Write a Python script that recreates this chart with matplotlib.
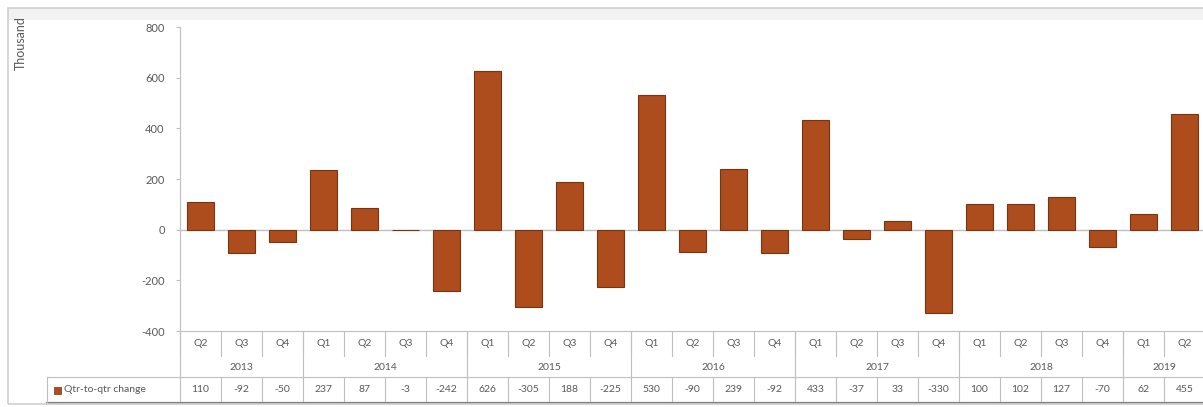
import matplotlib.pyplot as plt
from matplotlib.patches import Rectangle
from matplotlib.transforms import blended_transform_factory

# Quarter-to-quarter change, thousands
quarters = ['Q2', 'Q3', 'Q4',
            'Q1', 'Q2', 'Q3', 'Q4',
            'Q1', 'Q2', 'Q3', 'Q4',
            'Q1', 'Q2', 'Q3', 'Q4',
            'Q1', 'Q2', 'Q3', 'Q4',
            'Q1', 'Q2', 'Q3', 'Q4',
            'Q1', 'Q2']
years = ['2013', '2014', '2015', '2016', '2017', '2018', '2019']
quarters_per_year = [3, 4, 4, 4, 4, 4, 2]
changes = [110, -92, -50, 237, 87, -3, -242, 626, -305, 188, -225,
           530, -90, 239, -92, 433, -37, 33, -330, 100, 102, 127, -70, 62, 455]
series_name = 'Qtr-to-qtr change'

W, H = 1203, 407
bar_color = '#AD4C1C'
edge_color = '#7C3410'
text_color = '#595959'
grid_color = '#BFBFBF'
plt.rcParams['font.family'] = ['Lato', 'DejaVu Sans']
plt.rcParams['axes.unicode_minus'] = False

fig = plt.figure(figsize=(W / 100, H / 100), dpi=100)

# axes in pixel terms: left 180, right 1205, top 27, bottom 331
ax_left, ax_right, ax_top, ax_bot = 180, 1205, 27, 331
ax = fig.add_axes([ax_left / W, 1 - ax_bot / H,
                   (ax_right - ax_left) / W, (ax_bot - ax_top) / H])

x = list(range(len(changes)))
ax.bar(x, changes, width=0.68, color=bar_color, edgecolor=edge_color,
       linewidth=0.8, zorder=3)
ax.axhline(0, color=grid_color, linewidth=1, zorder=2)

ax.set_xlim(-0.5, len(changes) - 0.5)
ax.set_ylim(-400, 800)
ax.set_yticks(range(-400, 801, 200))
ax.tick_params(axis='y', labelsize=8, colors=text_color, length=3,
               color=grid_color, pad=8)
ax.set_xticks([])
for side in ['top', 'right', 'bottom']:
    ax.spines[side].set_visible(False)
ax.spines['left'].set_color(grid_color)

# data table below the plot
tr = blended_transform_factory(ax.transData, ax.transAxes)
ah = ax_bot - ax_top


def fy(py):
    # pixel y below axes -> axes fraction
    return (ax_bot - py) / ah


q_mid, year_mid, row_top, row_mid, row_bot = 344, 368, 377, 390, 403
lw = 0.8

# quarter labels and separators
for i, q in enumerate(quarters):
    ax.text(i, fy(q_mid), q, transform=tr, ha='center', va='center',
            fontsize=7.5, color=text_color, clip_on=False)
    ax.text(i, fy(row_mid), str(changes[i]), transform=tr, ha='center',
            va='center', fontsize=7.5, color=text_color, clip_on=False)
    ax.plot([i - 0.5, i - 0.5], [fy(ax_bot), fy(356)], transform=tr,
            color=grid_color, lw=lw, clip_on=False)
    ax.plot([i - 0.5, i - 0.5], [fy(row_top), fy(row_bot)], transform=tr,
            color=grid_color, lw=lw, clip_on=False)

# year labels and separators
start = 0
for yr, n in zip(years, quarters_per_year):
    ax.text(start + (n - 1) / 2, fy(year_mid), yr, transform=tr,
            ha='center', va='center', fontsize=7.5, color=text_color,
            clip_on=False)
    ax.plot([start - 0.5, start - 0.5], [fy(ax_bot), fy(row_top)],
            transform=tr, color=grid_color, lw=lw, clip_on=False)
    start += n

# horizontal table lines
ax.plot([-0.5, len(changes)], [fy(ax_bot), fy(ax_bot)], transform=tr,
        color=grid_color, lw=lw, clip_on=False)
left_data = (47 - ax_left) / (ax_right - ax_left) * len(changes) - 0.5
ax.plot([left_data, len(changes)], [fy(row_top), fy(row_top)], transform=tr,
        color=grid_color, lw=lw, clip_on=False)
ax.plot([left_data, len(changes)], [fy(row_bot), fy(row_bot)], transform=tr,
        color='#808080', lw=1.6, clip_on=False)
ax.plot([left_data, left_data], [fy(row_top), fy(row_bot)], transform=tr,
        color=grid_color, lw=lw, clip_on=False)

# legend key in data row
fig.patches.append(Rectangle((54 / W, 1 - 394 / H), 7 / W, 7 / H,
                             transform=fig.transFigure, facecolor=bar_color,
                             edgecolor=edge_color, lw=0.5))
fig.text(64 / W, 1 - row_mid / H, series_name, ha='left', va='center',
         fontsize=7.5, color=text_color)

# outer chart frame with light shadow band at top
fig.patches.append(Rectangle((8 / W, 1 - 20 / H), 1.0, 12 / H,
                             transform=fig.transFigure, facecolor='#F2F2F2',
                             edgecolor='none'))
fig.patches.append(Rectangle((8 / W, 1 - 404 / H), 1.0, (404 - 8) / H,
                             transform=fig.transFigure, facecolor='none',
                             edgecolor='#D0D0D0', lw=1.2))

# unit label
fig.text(21 / W, 1 - 43 / H, 'Thousand', rotation=90, ha='center',
         va='center', fontsize=9, color=text_color)

fig.savefig('out.png', dpi=100)
